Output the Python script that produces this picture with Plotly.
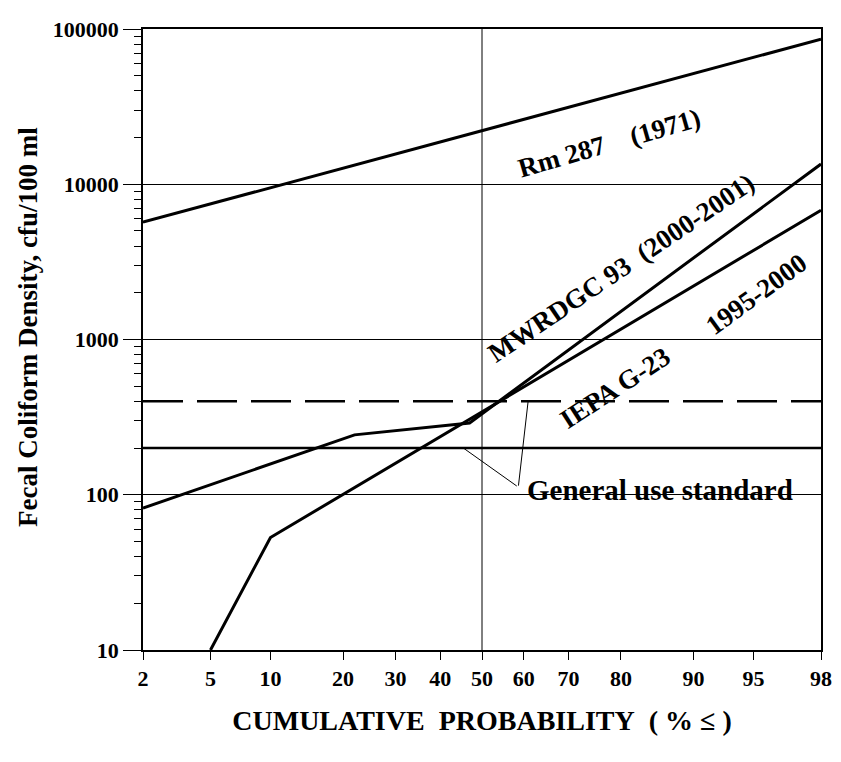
import math
from statistics import NormalDist
import plotly.graph_objects as go

# cumulative probability (%) tick marks
prob_ticks = [2, 5, 10, 20, 30, 40, 50, 60, 70, 80, 90, 95, 98]

# Rm 287 (1971)
rm287_prob = [2, 98]
rm287_val = [5700, 86000]

# MWRDGC 93 (2000-2001)
mwrdgc_prob = [2, 22, 47, 98]
mwrdgc_val = [82, 243, 290, 13500]

# IEPA G-23 (1995-2000)
iepa_prob = [5, 10, 98]
iepa_val = [10, 53, 6800]

# general use standards
std_prob = [2, 98]
std_geomean = [200, 200]
std_single = [400, 400]

FONT = "Liberation Serif"
nd = NormalDist()


def z(p):
    return nd.inv_cdf(p / 100.0)


def zs(ps):
    return [z(p) for p in ps]


fig = go.Figure()

line = dict(color="black", width=3)
fig.add_trace(go.Scatter(x=zs(rm287_prob), y=rm287_val, mode="lines", line=line))
fig.add_trace(go.Scatter(x=zs(mwrdgc_prob), y=mwrdgc_val, mode="lines", line=line))
fig.add_trace(go.Scatter(x=zs(iepa_prob), y=iepa_val, mode="lines", line=line))
fig.add_trace(go.Scatter(x=zs(std_prob), y=std_geomean, mode="lines",
                         line=dict(color="black", width=2.5)))
fig.add_trace(go.Scatter(x=zs(std_prob), y=std_single, mode="lines",
                         line=dict(color="black", width=2.5, dash="40px,14px")))

# vertical grid line at the median
fig.add_vline(x=z(50), line=dict(color="black", width=1))

lab_font = dict(family=FONT, size=27, color="black", weight="bold")
fig.add_annotation(text="Rm 287&nbsp;&nbsp;&nbsp;&nbsp;(1971)", x=z(78), y=math.log10(18500),
                   textangle=-16, showarrow=False, font=lab_font)
fig.add_annotation(text="MWRDGC 93&nbsp;&nbsp;(2000-2001)", x=z(80), y=math.log10(2900),
                   textangle=-34, showarrow=False, font=lab_font)
fig.add_annotation(text="IEPA G-23", x=z(79), y=math.log10(485),
                   textangle=-33, showarrow=False, font=lab_font)
fig.add_annotation(text="1995-2000", x=z(95.2), y=math.log10(1950),
                   textangle=-36, showarrow=False, font=lab_font)
fig.add_annotation(text="General use standard", x=z(60.3), y=math.log10(108),
                   xanchor="left", yanchor="middle", showarrow=False,
                   font=dict(family=FONT, size=29, color="black", weight="bold"))

# leader lines from the label to the two standard lines
for px_, val in [(45.5, 200), (61, 400)]:
    fig.add_annotation(x=z(px_), y=math.log10(val), ax=z(58.7), ay=math.log10(112),
                       axref="x", ayref="y", text="", showarrow=True,
                       arrowhead=0, arrowwidth=1, arrowcolor="black")

# y axis title placed as a rotated annotation
fig.add_annotation(text="Fecal Coliform Density, cfu/100 ml", xref="paper", yref="paper",
                   x=-0.169, y=0.521, textangle=-90, showarrow=False,
                   xanchor="center", yanchor="middle",
                   font=dict(family=FONT, size=27, color="black", weight="bold"))

fig.update_xaxes(
    range=[z(2), z(98)],
    tickmode="array",
    tickvals=zs(prob_ticks),
    ticktext=[str(p) for p in prob_ticks],
    ticks="outside", ticklen=8, tickcolor="black",
    ticklabeloverflow="allow",
    showgrid=False, zeroline=False,
    showline=True, linecolor="black", linewidth=1.5, mirror=True,
    tickfont=dict(family=FONT, size=22, color="black", weight="bold"),
    title=dict(text="CUMULATIVE&nbsp;&nbsp;PROBABILITY&nbsp;&nbsp;( % ≤ )", standoff=20,
               font=dict(family=FONT, size=28, color="black", weight="bold")),
)
fig.update_yaxes(
    type="log",
    range=[1, 5],
    dtick=1,
    tickformat="d",
    ticks="outside", ticklen=18, tickcolor="black",
    ticklabeloverflow="allow",
    minor=dict(ticks="outside", ticklen=7, tickcolor="black", dtick="D1", showgrid=False),
    showgrid=True, gridcolor="black", gridwidth=1,
    zeroline=False,
    showline=True, linecolor="black", linewidth=1.5, mirror=True,
    tickfont=dict(family=FONT, size=22, color="black", weight="bold"),
)

# the page body adds an 8px margin, so the figure is sized to fit the window
fig.update_layout(
    width=833, height=754,
    margin=dict(l=135, r=13, t=9, b=112),
    plot_bgcolor="white", paper_bgcolor="white",
    showlegend=False,
)

fig.write_html("out.html")
